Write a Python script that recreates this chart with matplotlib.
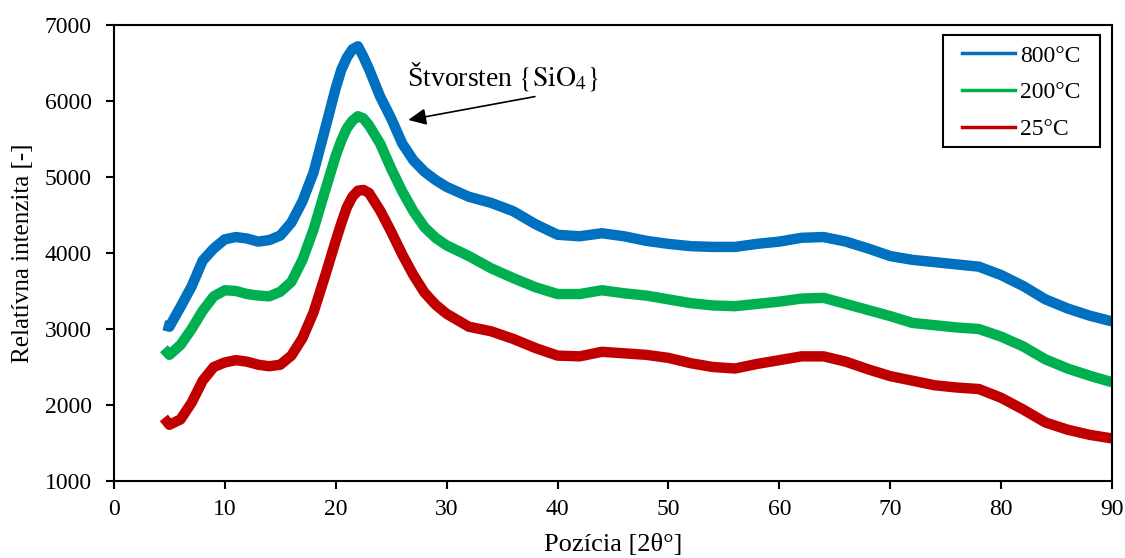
import numpy as np
import matplotlib.pyplot as plt
from matplotlib.patches import Rectangle

#XRD patterns, 2theta in degrees
pos = [4.5, 5, 6, 7, 8, 9, 10, 11, 12, 13, 14, 15, 16, 17, 18, 19, 20, 20.5, 21, 21.5,
       22, 22.5, 23, 24, 25, 26, 27, 28, 29, 30, 32, 34, 36, 38, 40, 42, 44, 46, 48, 50,
       52, 54, 56, 58, 60, 62, 64, 66, 68, 70, 72, 74, 76, 78, 80, 82, 84, 86, 88, 90]

t800 = [3050, 3030, 3290, 3560, 3900, 4060, 4180, 4210, 4190, 4150, 4170, 4230, 4400, 4680, 5060, 5610, 6170, 6410, 6570, 6680,
        6720, 6580, 6420, 6060, 5770, 5440, 5220, 5070, 4960, 4870, 4740, 4660, 4550, 4380, 4240, 4220, 4260, 4220, 4160, 4120,
        4090, 4080, 4080, 4120, 4150, 4200, 4210, 4150, 4060, 3960, 3910, 3880, 3850, 3820, 3710, 3565, 3390, 3270, 3175, 3100]

t200 = [2740, 2660, 2790, 3000, 3240, 3430, 3510, 3500, 3460, 3440, 3430, 3490, 3620, 3910, 4310, 4800, 5280, 5480, 5640, 5740,
        5800, 5770, 5680, 5440, 5110, 4810, 4550, 4340, 4200, 4100, 3960, 3800, 3670, 3550, 3460, 3460, 3510, 3470, 3440, 3390,
        3340, 3310, 3300, 3330, 3360, 3400, 3410, 3330, 3250, 3170, 3080, 3050, 3020, 3000, 2900, 2770, 2600, 2480, 2385, 2300]

t25 = [1830, 1740, 1810, 2030, 2320, 2500, 2560, 2590, 2570, 2530, 2510, 2530, 2650, 2880, 3220, 3680, 4160, 4390, 4600, 4740,
       4820, 4830, 4790, 4560, 4280, 3980, 3710, 3480, 3320, 3200, 3030, 2970, 2870, 2750, 2650, 2640, 2700, 2680, 2660, 2620,
       2550, 2500, 2480, 2540, 2590, 2640, 2640, 2570, 2470, 2380, 2320, 2260, 2230, 2210, 2095, 1940, 1770, 1675, 1607, 1560]

plt.rcParams['font.family'] = ['Liberation Serif', 'DejaVu Serif']
plt.rcParams['mathtext.fontset'] = 'stix'
plt.rcParams['font.size'] = 17

fig = plt.figure(figsize=(11.25, 5.58), dpi=100)
ax = fig.add_axes([0.1013, 0.138, 0.8871, 0.8172])

ax.plot(pos, t800, color='#0070C0', lw=7.5, solid_capstyle='butt', solid_joinstyle='round')
ax.plot(pos, t200, color='#00B050', lw=7.5, solid_capstyle='butt', solid_joinstyle='round')
ax.plot(pos, t25, color='#C00000', lw=7.5, solid_capstyle='butt', solid_joinstyle='round')

ax.set_xlim(0, 90)
ax.set_ylim(1000, 7000)
ax.set_xticks(np.arange(0, 91, 10))
ax.set_yticks(np.arange(1000, 7001, 1000))
ax.tick_params(direction='out', length=6, width=1.5, labelsize=17)
ax.tick_params(axis='y', pad=10)
ax.tick_params(axis='x', pad=7)
for s in ax.spines.values():
    s.set_linewidth(1.5)
ax.set_xlabel('Pozícia [2θ°]', fontsize=19, labelpad=10)
ax.set_ylabel('Relatívna intenzita [-]', fontsize=18, labelpad=8)

#legend uses thin lines, not the thick data lines; frame drawn separately (wider side padding)
h1, = ax.plot([], [], color='#0070C0', lw=2.5)
h2, = ax.plot([], [], color='#00B050', lw=2.5)
h3, = ax.plot([], [], color='#C00000', lw=2.5)
leg = ax.legend([h1, h2, h3], ['800°C', '200°C', '25°C'], loc='upper left',
                bbox_to_anchor=(0.8497, 0.956), borderaxespad=0, frameon=False,
                fontsize=17, handlelength=2.25, handletextpad=0.2,
                labelspacing=0.64, borderpad=0)
ax.add_patch(Rectangle((0.8307, 0.7325), 0.1573, 0.2455, transform=ax.transAxes,
                       fill=True, facecolor='white', edgecolor='black', lw=1.5, zorder=4))
leg.set_zorder(5)

ax.text(26.4, 6198, 'Štvorsten $\\{\\mathrm{SiO}_4\\}$', fontsize=20, ha='left', va='baseline')
ax.annotate('', xy=(26.54, 5751), xytext=(37.96, 6058),
            arrowprops=dict(arrowstyle='-|>,head_length=0.6,head_width=0.28',
                            color='black', lw=1.2, mutation_scale=18, shrinkA=0, shrinkB=0))

plt.savefig('out.png', dpi=100)
